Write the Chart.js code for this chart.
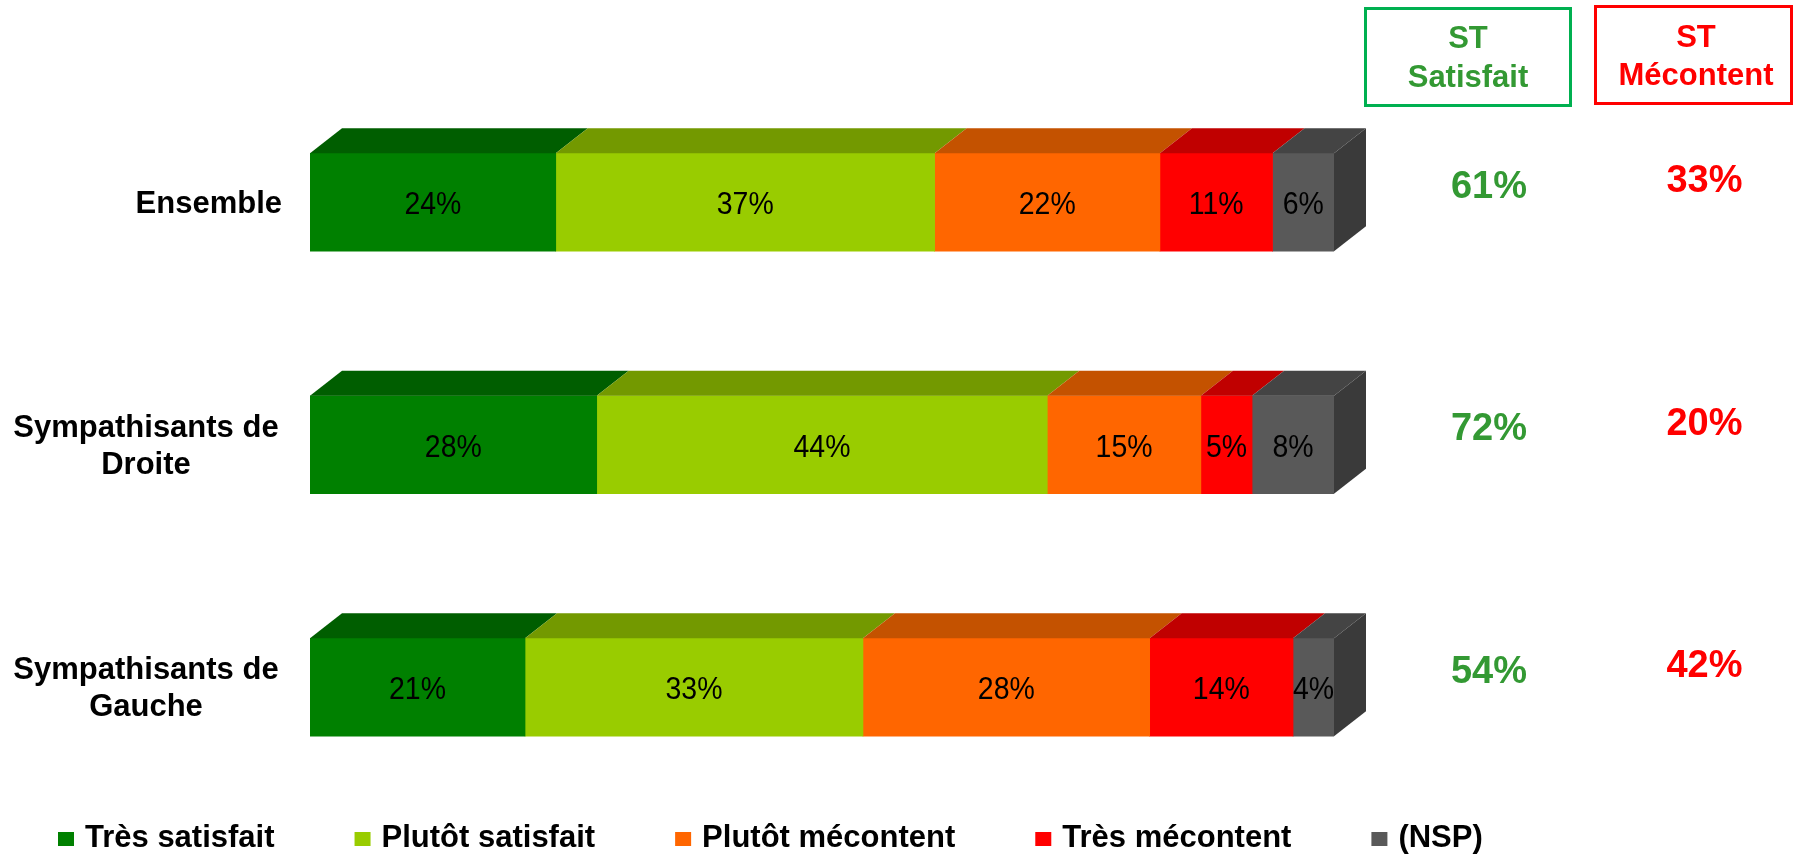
<!DOCTYPE html>
<html>
<head>
<meta charset="utf-8">
<script src="https://cdn.jsdelivr.net/npm/chart.js@4"></script>
<style>
  html, body { margin: 0; padding: 0; background: #fff; }
  #wrap { width: 1794px; height: 855px; position: relative; }
</style>
</head>
<body>
<div id="wrap"><canvas id="satisfaction" width="1794" height="855"></canvas></div>
<script>
// Rows and answer shares (%)
const categories = [['Ensemble'], ['Sympathisants de', 'Droite'], ['Sympathisants de', 'Gauche']];
const tresSatisfait = [24, 28, 21];
const plutotSatisfait = [37, 44, 33];
const plutotMecontent = [22, 15, 28];
const tresMecontent = [11, 5, 14];
const nsp = [6, 8, 4];

const seriesNames = ['Très satisfait', 'Plutôt satisfait', 'Plutôt mécontent', 'Très mécontent', '(NSP)'];
const frontColors = ['#008000', '#99cc00', '#ff6600', '#ff0000', '#595959'];
const topColors = ['#005e00', '#739900', '#c45200', '#c00000', '#444444'];
const sideColor = '#3a3a3a';

const FONT = '"Liberation Sans", Arial, sans-serif';
const DEPTH_X = 32, DEPTH_Y = 25;

// top face on every segment, side face on the last one
const box3d = {
    id: 'box3d',
    afterDatasetsDraw(chart) {
        const ctx = chart.ctx;
        const last = chart.data.datasets.length - 1;
        chart.data.datasets.forEach((ds, di) => {
            chart.getDatasetMeta(di).data.forEach(bar => {
                const left = Math.min(bar.base, bar.x), right = Math.max(bar.base, bar.x);
                const top = bar.y - bar.height / 2, bottom = bar.y + bar.height / 2;
                ctx.save();
                ctx.fillStyle = topColors[di];
                ctx.beginPath();
                ctx.moveTo(left, top);
                ctx.lineTo(left + DEPTH_X, top - DEPTH_Y);
                ctx.lineTo(right + DEPTH_X, top - DEPTH_Y);
                ctx.lineTo(right, top);
                ctx.closePath();
                ctx.fill();
                if (di === last) {
                    ctx.fillStyle = sideColor;
                    ctx.beginPath();
                    ctx.moveTo(right, top);
                    ctx.lineTo(right + DEPTH_X, top - DEPTH_Y);
                    ctx.lineTo(right + DEPTH_X, bottom - DEPTH_Y);
                    ctx.lineTo(right, bottom);
                    ctx.closePath();
                    ctx.fill();
                }
                ctx.restore();
            });
        });
    }
};

// percentages inside the segments (slightly narrowed glyphs)
const segmentLabels = {
    id: 'segmentLabels',
    afterDatasetsDraw(chart) {
        const ctx = chart.ctx;
        const sx = 0.89;
        chart.data.datasets.forEach((ds, di) => {
            chart.getDatasetMeta(di).data.forEach((bar, i) => {
                ctx.save();
                ctx.font = '32px ' + FONT;
                ctx.fillStyle = '#000';
                ctx.textAlign = 'center';
                ctx.textBaseline = 'alphabetic';
                ctx.translate((bar.x + bar.base) / 2, bar.y + 12);
                ctx.scale(sx, 1);
                ctx.fillText(ds.data[i] + '%', 0, 0);
                ctx.restore();
            });
        });
    }
};

// row names, totals columns, header boxes and legend
const decorations = {
    id: 'decorations',
    afterDraw(chart) {
        const ctx = chart.ctx;
        const yScale = chart.scales.y;
        ctx.save();
        ctx.textBaseline = 'alphabetic';

        // row names
        ctx.font = 'bold 31px ' + FONT;
        ctx.fillStyle = '#000';
        chart.data.labels.forEach((lines, i) => {
            const cy = yScale.getPixelForValue(i);
            if (lines.length === 1) {
                ctx.textAlign = 'right';
                ctx.fillText(lines[0], 282, cy + 11);
            } else {
                ctx.textAlign = 'center';
                ctx.fillText(lines[0], 146, cy - 8);
                ctx.fillText(lines[1], 146, cy + 29);
            }
        });

        // header boxes
        ctx.lineWidth = 3;
        ctx.strokeStyle = '#00b050';
        ctx.strokeRect(1365.5, 8.5, 205, 97);
        ctx.strokeStyle = '#ff0000';
        ctx.strokeRect(1595.5, 6.5, 196, 97);
        ctx.textAlign = 'center';
        ctx.font = 'bold 31px ' + FONT;
        ctx.fillStyle = '#339933';
        ctx.fillText('ST', 1468, 48);
        ctx.fillText('Satisfait', 1468, 86.5);
        ctx.fillStyle = '#ff0000';
        ctx.fillText('ST', 1696, 46.5);
        ctx.fillText('Mécontent', 1696, 85);

        // totals per row
        ctx.font = 'bold 38px ' + FONT;
        chart.data.labels.forEach((lines, i) => {
            const cy = yScale.getPixelForValue(i);
            const sat = tresSatisfait[i] + plutotSatisfait[i];
            const mec = plutotMecontent[i] + tresMecontent[i];
            ctx.fillStyle = '#339933';
            ctx.fillText(sat + '%', 1489, cy - 4.5);
            ctx.fillStyle = '#ff0000';
            ctx.fillText(mec + '%', 1704.5, cy - 10);
        });

        // legend
        ctx.font = 'bold 31px ' + FONT;
        ctx.textAlign = 'left';
        let x = 58;
        const baseline = 846.5;
        chart.data.datasets.forEach(ds => {
            ctx.fillStyle = ds.backgroundColor;
            ctx.fillRect(x, 832, 16, 14);
            ctx.fillStyle = '#000';
            ctx.fillText(ds.label, x + 27, baseline);
            x += 27 + ctx.measureText(ds.label).width + 80;
        });
        ctx.restore();
    }
};

const seriesValues = [tresSatisfait, plutotSatisfait, plutotMecontent, tresMecontent, nsp];

new Chart(document.getElementById('satisfaction'), {
    type: 'bar',
    data: {
        labels: categories,
        datasets: seriesValues.map((values, i) => ({
            label: seriesNames[i],
            data: values,
            backgroundColor: frontColors[i],
            borderWidth: 0,
            barThickness: 98
        }))
    },
    options: {
        indexAxis: 'y',
        responsive: false,
        animation: false,
        layout: { padding: { left: 310, right: 460, top: 81, bottom: 46.5 } },
        scales: {
            x: { stacked: true, min: 0, max: 100, display: false },
            y: { stacked: true, display: false }
        },
        plugins: {
            legend: { display: false },
            tooltip: { enabled: false }
        }
    },
    plugins: [box3d, segmentLabels, decorations]
});
</script>
</body>
</html>
